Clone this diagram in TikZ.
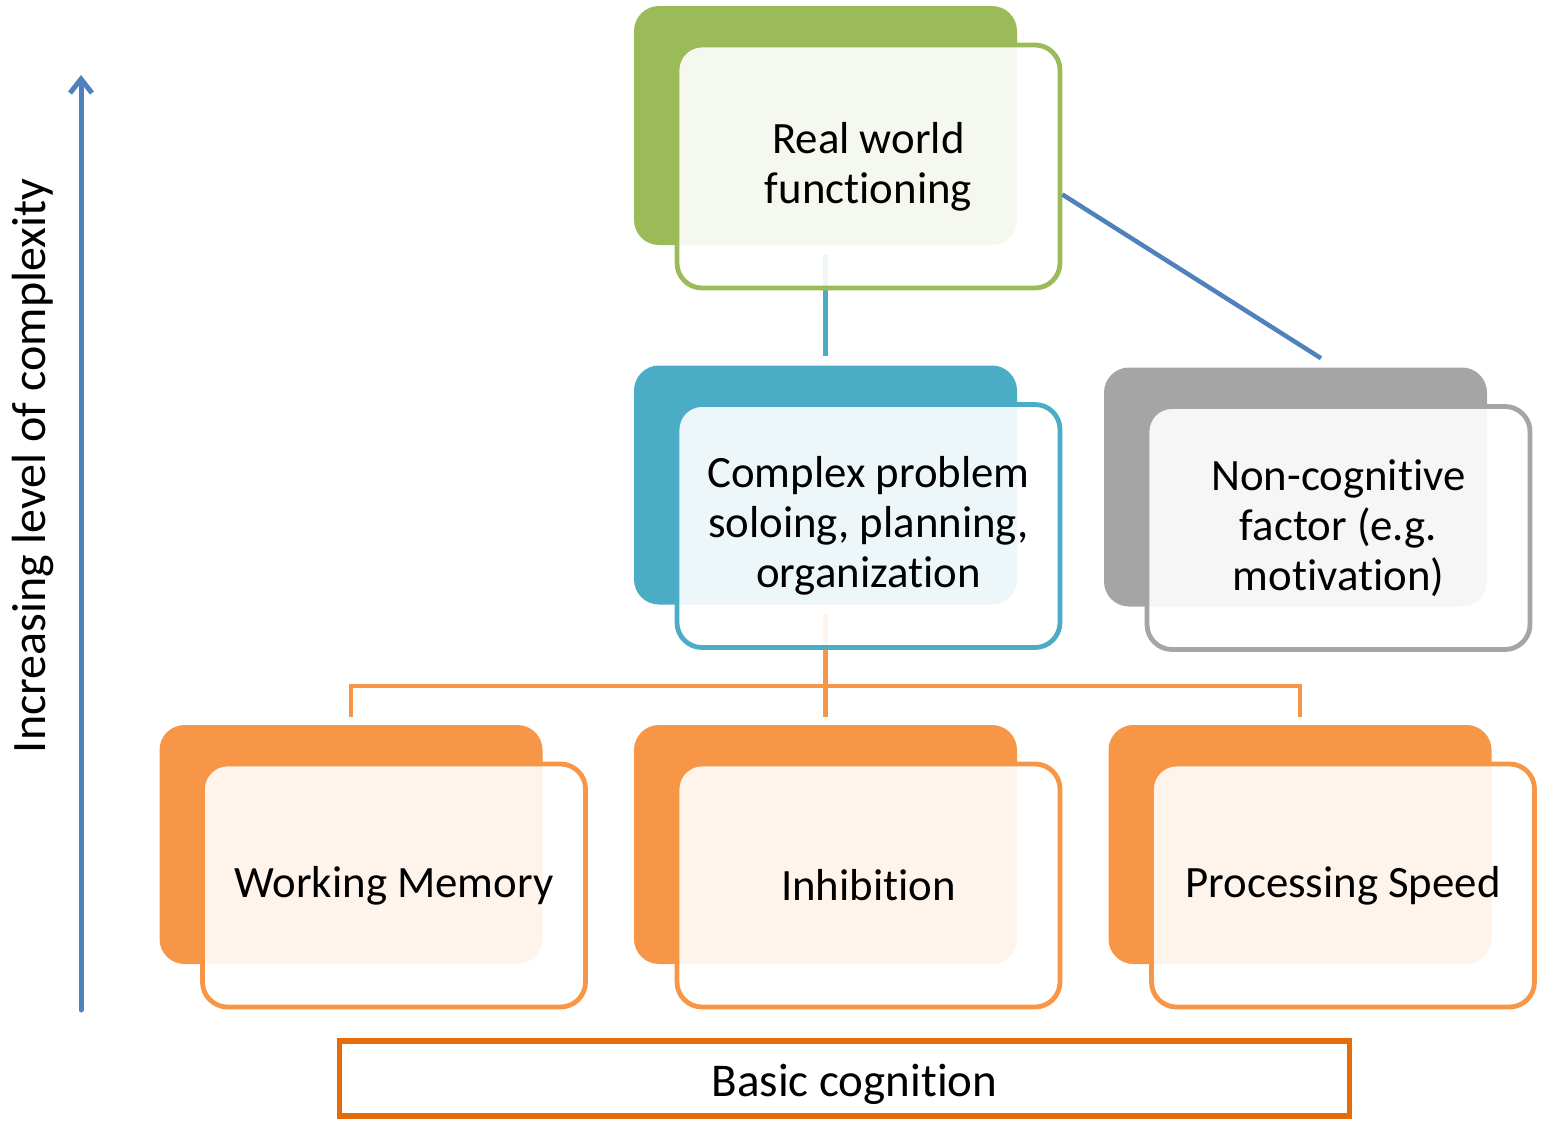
\documentclass[tikz,border=0pt]{standalone}
\usepackage{fontspec}
\setmainfont{Carlito}
\usetikzlibrary{arrows.meta}

\definecolor{rwgreen}{HTML}{9BBB59}
\definecolor{cpteal}{HTML}{4BACC6}
\definecolor{ncgray}{HTML}{A5A5A5}
\definecolor{bcorange}{HTML}{F79646}
\definecolor{bcdark}{HTML}{E46C0A}
\definecolor{axisblue}{HTML}{4F81BD}
% break the t-i ligature of Carlito
\newcommand\nolig{\kern0pt}

\begin{document}
\begin{tikzpicture}[x=0.5pt,y=-0.5pt,line width=2.25pt]
  \tikzstyle{back}=[rounded corners=12.5pt,minimum width=191.5pt,minimum height=119.5pt,inner sep=0pt]
  \tikzstyle{front}=[rounded corners=12.5pt,draw,line width=2.4pt,fill=white,fill opacity=0.9,text opacity=1,text=black,
                     minimum width=191.5pt,minimum height=121.5pt,align=center,
                     font=\fontsize{22.4}{25}\selectfont,xshift=21.5pt,yshift=-20.5pt]
  \useasboundingbox (0,0) rectangle (1542,1120);

  % back cards
  \node[back,fill=rwgreen]   (rwb) at (825.5,125.5) {};
  \node[back,fill=cpteal]    (cpb) at (825.5,485)   {};
  \node[back,fill=ncgray]    (ncb) at (1295.5,487)  {};
  \node[back,fill=bcorange]  (wmb) at (351,844.5)   {};
  \node[back,fill=bcorange]  (inb) at (825.5,844.5) {};
  \node[back,fill=bcorange]  (psb) at (1300,844.5)  {};

  % connectors
  \coordinate (bar) at (825,686);
  \draw[cpteal]   ([yshift=-4pt]rwb.south) -- ([yshift=3.5pt]cpb.north);
  \draw[bcorange] ([yshift=-3.5pt]cpb.south) -- ([yshift=3pt]inb.north);
  \draw[bcorange] ([yshift=3pt]wmb.north) |- (bar) -| ([yshift=3pt]psb.north);

  % front cards
  \node[front,draw=rwgreen]  (rwf) at (rwb) {Real world\\funct\nolig ioning};
  \node[front,draw=cpteal]   (cpf) at (cpb) {Complex problem\\soloing, planning,\\organizat\nolig ion};
  \node[front,draw=ncgray]   (ncf) at (ncb) {Non-cognit\nolig ive\\factor (e.g.\\mot\nolig ivat\nolig ion)};
  \node[front,draw=bcorange] (wmf) at (wmb) {Working Memory};
  \node[front,draw=bcorange] (inf) at (inb) {Inhibit\nolig ion};
  \node[front,draw=bcorange] (psf) at (psb) {Processing Speed};

  \draw[axisblue] ([yshift=-14pt]rwf.east) -- ([xshift=12.75pt,yshift=3.5pt]ncb.north);

  % complexity axis
  \coordinate (abot) at (81,1010);
  \coordinate (atop) at (81,75);
  \draw[axisblue,line width=2.5pt,line cap=round,-{Straight Barb[length=7pt,width=11pt]}] (abot) -- (atop);
  \node[rotate=90,font=\fontsize{24}{28}\selectfont] (axl) at (33,466) {Increasing level of complexity};

  % basic cognition
  \node[draw=bcdark,line width=2.9pt,minimum width=505pt,minimum height=37.5pt,
        font=\fontsize{23.5}{28}\selectfont] (bc) at (844.5,1078.5)
        {\hspace*{10pt}\raisebox{-3pt}[\height][\depth]{Basic cognit\nolig ion}};
\end{tikzpicture}
\end{document}
